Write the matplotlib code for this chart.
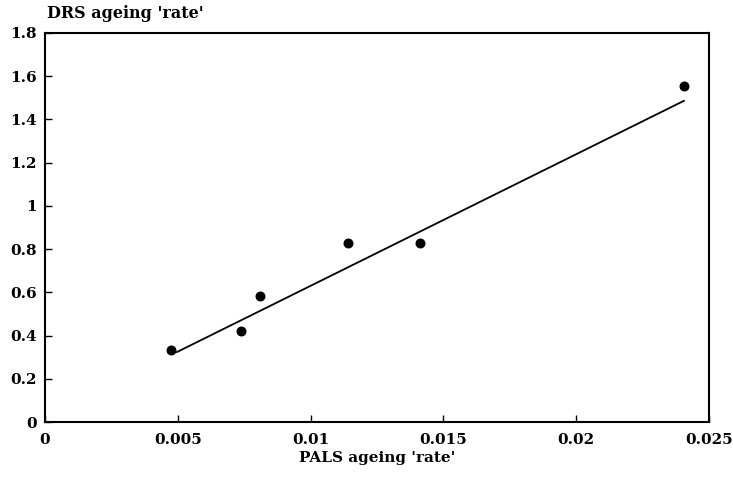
import matplotlib
matplotlib.use("Agg")
import matplotlib.pyplot as plt
from matplotlib.ticker import FuncFormatter

pals_rate = [0.00474, 0.00737, 0.00808, 0.01143, 0.01414, 0.02406]
drs_rate = [0.333, 0.42, 0.583, 0.829, 0.829, 1.556]
fit_x = [0.00497, 0.02406]
fit_y = [0.324, 1.486]
x_ticks = [0, 0.005, 0.01, 0.015, 0.02, 0.025]
y_ticks = [0, 0.2, 0.4, 0.6, 0.8, 1.0, 1.2, 1.4, 1.6, 1.8]

plt.rcParams['font.family'] = ['DejaVu Serif']
plt.rcParams['font.weight'] = 'bold'

fig = plt.figure(figsize=(7.33, 4.78), dpi=100)
ax = fig.add_axes([0.0614, 0.117, 0.9056, 0.814])

ax.plot(fit_x, fit_y, color='black', lw=1.3)
ax.scatter(pals_rate, drs_rate, s=38, color='black', zorder=3)

ax.set_xlim(0, 0.025)
ax.set_ylim(0, 1.8)
ax.set_xticks(x_ticks)
ax.set_yticks(y_ticks)

def fmt(v, pos):
    s = ('%.3f' % v).rstrip('0').rstrip('.')
    return s
ax.xaxis.set_major_formatter(FuncFormatter(fmt))
ax.yaxis.set_major_formatter(FuncFormatter(fmt))

ax.tick_params(direction='in', length=5, width=1, labelsize=11, top=False, right=False)
ax.tick_params(axis='x', pad=8)
ax.tick_params(axis='y', pad=6)
for sp in ax.spines.values():
    sp.set_linewidth(1.5)

for lab in ax.get_xticklabels() + ax.get_yticklabels():
    lab.set_fontweight('bold')

ax.set_xlabel("PALS ageing 'rate'", fontsize=11, fontweight='bold', labelpad=3)
fig.text(0.064, 0.99, "DRS ageing 'rate'", fontsize=11.5, fontweight='bold', ha='left', va='top')

fig.savefig('out.png', dpi=100)
